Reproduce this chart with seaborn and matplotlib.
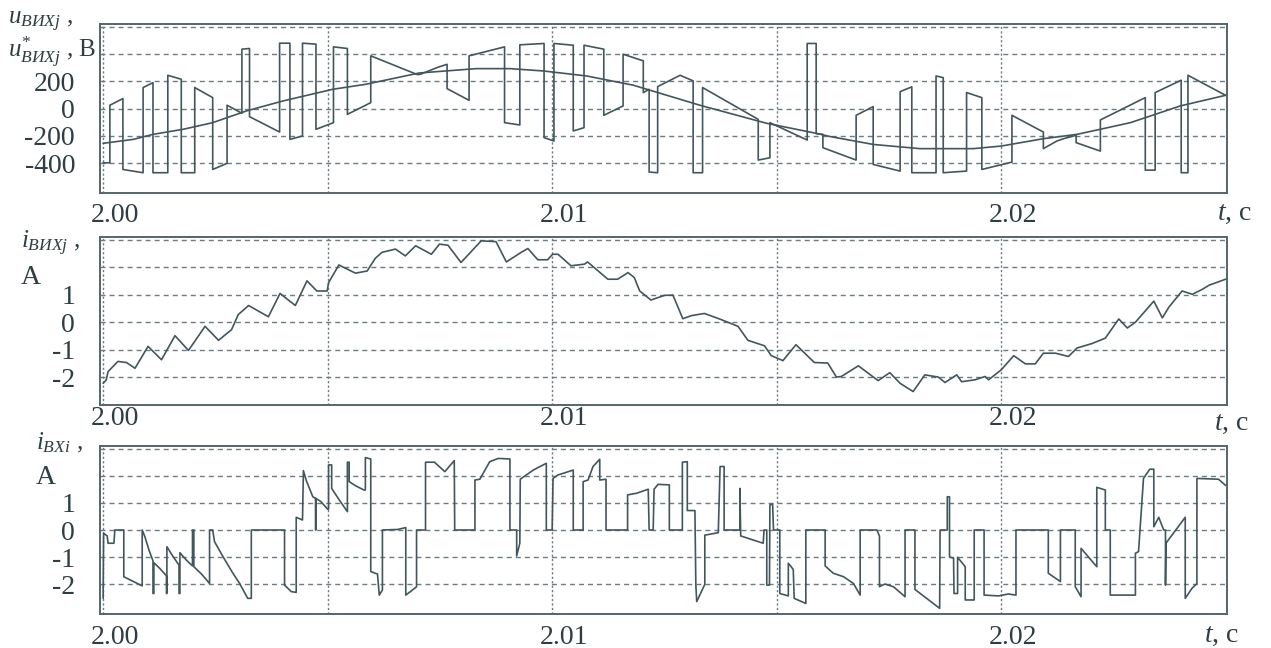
import numpy as np
import pandas as pd
import matplotlib
matplotlib.use("Agg")
import matplotlib.pyplot as plt
import matplotlib.transforms as mtransforms
import seaborn as sns

# ---------------- data (time in ms after t = 2.00 s) ----------------
u_out_ms = [0.0, 0.15, 0.15, 0.44, 0.44, 0.89, 0.89, 1.11, 1.11, 1.44, 1.44, 1.74, 1.74, 2.04, 2.04, 2.44,
            2.44, 2.76, 2.76, 2.9, 3.09, 3.09, 3.26, 3.26, 3.93, 3.93, 4.16, 4.16, 4.44, 4.44, 4.74, 4.74,
            5.13, 5.13, 5.44, 5.44, 5.96, 5.96, 7.0, 7.07, 7.44, 7.66, 7.66, 8.15, 8.15, 8.94, 8.94, 9.28,
            9.28, 9.82, 9.82, 10.04, 10.04, 10.47, 10.47, 10.71, 10.71, 11.15, 11.15, 11.58, 11.58, 12.03,
            12.03, 12.16, 12.16, 12.35, 12.35, 12.85, 13.14, 13.14, 13.35, 13.35, 14.59, 14.59, 14.85, 14.85,
            15.68, 15.68, 15.88, 15.88, 16.03, 16.03, 16.77, 16.77, 17.15, 17.15, 17.75, 17.75, 18.01, 18.01,
            18.55, 18.55, 18.71, 18.71, 19.23, 19.23, 19.57, 19.57, 20.24, 20.24, 20.94, 20.94, 21.24, 21.4,
            21.67, 21.67, 22.21, 22.21, 23.21, 23.21, 23.43, 23.43, 24.01, 24.01, 24.16, 24.16, 25.0]
u_out_v = [-398, -398, 25, 74, -447, -471, 155, 191, -471, -471, 245, 216, -471, -471, 155, 81,
           -447, -402, 25, 0, -34, 437, 442, -59, -172, 481, 481, -226, -201, 481, 474, -152,
           -103, 454, 442, -42, 44, 388, 250, 253, 302, 326, 147, 61, 388, 454, -103, -120,
           469, 479, -213, -238, 479, 466, -164, -140, 466, 437, -49, 20, 400, 351,
           118, 142, -466, -471, 162, 245, 204, -471, -471, 155, -79, -378, -361, -103,
           -231, 479, 479, -184, -189, -287, -378, -49, 15, -410, -459, 125, 160, -471,
           -471, 240, 228, -471, -459, 118, 81, -447, -393, -49, -172, -294, -238, -220,
           -196, -250, -312, -83, 81, -452, -452, 118, 209, -471, -471, 245, 98]

u_ref_ms = [0.0, 0.67, 1.11, 1.78, 2.44, 3.19, 4.0, 5.11, 5.85, 7.04, 8.31, 9.06, 9.8, 10.77, 11.81,
            13.29, 14.78, 15.89, 16.19, 17.15, 18.19, 19.38, 20.0, 20.94, 21.69, 22.88, 23.99, 25.0]
u_ref_v = [-255, -226, -189, -152, -103, -17, 56, 142, 179, 262, 294, 294, 277, 240, 172,
           25, -108, -182, -205, -263, -294, -294, -275, -221, -189, -103, 20, 98]

i_out_ms = [0.0, 0.07, 0.11, 0.33, 0.52, 0.71, 1.0, 1.3, 1.6, 1.9, 2.27, 2.57, 2.86, 3.01, 3.24, 3.68,
            3.94, 4.28, 4.54, 4.76, 4.99, 5.02, 5.25, 5.62, 5.88, 6.06, 6.21, 6.51, 6.73, 6.96, 7.31,
            7.49, 7.68, 7.97, 8.42, 8.75, 8.98, 9.31, 9.46, 9.68, 9.9, 10.01, 10.13, 10.42, 10.72, 10.79,
            11.24, 11.46, 11.69, 11.83, 11.95, 12.2, 12.5, 12.69, 12.91, 13.1, 13.39, 13.76, 14.14, 14.36,
            14.73, 14.88, 15.14, 15.43, 15.84, 16.14, 16.33, 16.44, 16.82, 17.26, 17.52, 17.75, 18.04,
            18.3, 18.6, 18.75, 19.01, 19.12, 19.42, 19.64, 19.72, 20.0, 20.28, 20.54, 20.76, 20.94,
            21.21, 21.5, 21.69, 22.02, 22.32, 22.62, 22.81, 22.99, 23.4, 23.59, 23.74, 24.03, 24.26,
            24.48, 24.63, 25.0]
i_out_a = [-2.23, -2.1, -1.8, -1.43, -1.47, -1.68, -0.88, -1.37, -0.49, -1.03, -0.15, -0.66, -0.27, 0.28,
           0.61, 0.2, 1.05, 0.61, 1.51, 1.14, 1.14, 1.44, 2.09, 1.79, 1.87, 2.33, 2.55, 2.67, 2.42, 2.79,
           2.48, 2.85, 2.81, 2.18, 2.97, 2.94, 2.2, 2.55, 2.69, 2.28, 2.28, 2.48, 2.48, 2.06, 2.12, 2.2,
           1.57, 1.57, 1.81, 1.63, 1.14, 0.81, 0.98, 0.99, 0.13, 0.24, 0.32, 0.1, -0.15, -0.66,
           -0.86, -1.22, -1.4, -0.82, -1.47, -1.49, -2.0, -1.98, -1.59, -2.13, -1.84, -2.23, -2.53,
           -1.92, -2.0, -2.2, -1.92, -2.17, -2.1, -1.98, -2.1, -1.74, -1.22, -1.52, -1.52, -1.13,
           -1.13, -1.25, -0.94, -0.78, -0.58, 0.12, -0.21, 0.0, 0.77, 0.16, 0.56, 1.14, 1.02,
           1.2, 1.35, 1.57]

i_in_ms = [0.0, 0.01, 0.09, 0.11, 0.24, 0.26, 0.46, 0.46, 0.87, 0.87, 0.93, 1.02, 1.11, 1.11, 1.13, 1.13,
           1.26, 1.41, 1.41, 1.42, 1.42, 1.56, 1.69, 1.69, 1.71, 1.71, 1.85, 1.99, 1.99, 2.02, 2.02, 2.19,
           2.37, 2.37, 2.44, 2.48, 2.67, 2.89, 3.04, 3.22, 3.3, 3.3, 4.04, 4.04, 4.19, 4.3, 4.3, 4.44,
           4.46, 4.52, 4.67, 4.73, 4.73, 4.74, 4.74, 4.85, 5.0, 5.02, 5.02, 5.09, 5.09, 5.26, 5.44, 5.44,
           5.48, 5.48, 5.63, 5.81, 5.84, 5.84, 5.96, 5.96, 6.11, 6.15, 6.22, 6.22, 6.56, 6.74, 6.74, 6.89,
           6.98, 6.98, 7.18, 7.18, 7.38, 7.61, 7.82, 7.83, 8.28, 8.28, 8.39, 8.61, 8.8, 9.06, 9.06, 9.21,
           9.21, 9.28, 9.29, 9.58, 9.87, 9.87, 10.0, 10.02, 10.13, 10.25, 10.36, 10.47, 10.47, 10.69,
           10.69, 10.8, 10.91, 11.06, 11.06, 11.2, 11.2, 11.68, 11.68, 11.88, 12.14, 12.16, 12.25, 12.27,
           12.36, 12.61, 12.61, 12.9, 12.9, 13.01, 13.01, 13.18, 13.2, 13.22, 13.4, 13.4, 13.7, 13.74,
           13.83, 13.83, 14.18, 14.18, 14.2, 14.7, 14.72, 14.78, 14.78, 14.84, 14.85, 14.91, 14.93, 15.07,
           15.07, 15.26, 15.26, 15.37, 15.39, 15.65, 15.65, 16.08, 16.08, 16.26, 16.49, 16.71, 16.86,
           16.86, 17.23, 17.29, 17.29, 17.41, 17.6, 17.86, 17.86, 18.08, 18.08, 18.34, 18.63, 18.64,
           18.8, 18.8, 18.85, 18.85, 18.94, 18.95, 19.03, 19.03, 19.2, 19.2, 19.4, 19.4, 19.62, 19.62,
           19.94, 20.16, 20.33, 20.33, 21.05, 21.05, 21.32, 21.32, 21.65, 21.65, 21.78, 21.78, 22.13,
           22.13, 22.32, 22.32, 22.43, 22.43, 22.99, 22.99, 23.06, 23.17, 23.31, 23.4, 23.4, 23.51,
           23.62, 23.66, 23.66, 23.67, 24.1, 24.1, 24.25, 24.36, 24.36, 24.84, 25.0]
i_in_a = [-2.53, -0.12, -0.22, -0.49, -0.49, 0, 0, -1.73, -2.07, 0, -0.25, -0.74, -1.14, -2.35, -2.35, -1.21,
          -1.42, -1.7, -2.35, -2.35, -0.62, -0.99, -1.3, -2.35, -2.35, -0.84, -1.11, -1.33, 0, 0, -1.36, -1.63,
          -1.98, 0, 0, -0.43, -0.99, -1.6, -1.98, -2.53, -2.53, 0, 0, -2.04, -2.28, -2.31, 0.47, 0.37,
          2.2, 1.85, 1.23, 1.17, 0, 0, 1.17, 1.05, 0.77, 0.77, 2.41, 2.41, 1.54, 1.11, 0.68, 2.51,
          2.51, 1.79, 1.63, 1.48, 1.48, 2.68, 2.63, -1.54, -1.63, -2.41, -2.22, 0, 0.02, 0.09, -2.41, -2.22,
          -2.1, 0, 0, 2.51, 2.51, 2.16, 2.57, 0, 0, 1.85, 1.88, 2.53, 2.65, 2.63, 0, 0,
          -0.96, -0.49, 1.88, 2.22, 2.47, 0, 0, 1.91, 2.04, 2.1, 2.16, 2.22, 0, 0,
          1.79, 1.85, 2.35, 2.62, 1.85, 1.88, 0, 0, 1.3, 1.36, 1.51, 0, 0, 1.51,
          1.69, 1.67, 0, 0, 2.51, 2.53, 0.72, 0.72, -2.04, -2.65, -2.01, -0.19, -0.1, 2.35,
          2.35, 0, 0, 1.54, -0.22, -0.49, 0, 0, -2.04, -2.04, 0.93, 0.96, 0, 0,
          -2.35, -2.44, -1.23, -1.46, -2.53, -2.72, 0, 0, -1.33, -1.6, -1.73, -1.98, -2.41,
          0, 0, -0.22, -2.1, -2.0, -2.1, -2.47, 0, 0, -2.2, -2.53, -2.9, 0,
          0, 1.23, 1.23, -0.99, -1.05, -2.35, -2.35, -1.01, -1.36, -2.59, -2.59, 0, 0, -2.41,
          -2.44, -2.37, -2.41, 0, 0, -1.6, -1.91, 0, 0, -2.1, -2.47, -0.68, -1.36,
          1.58, 1.48, 0, 0, -2.41, -2.41, -0.86, -0.8, 1.91, 2.25, 2.25, 0.12, 0.47,
          0, 0, -2.04, -0.49, 0.47, -2.53, -2.16, -1.98, 1.91, 1.88, 1.65]

x_tick_values = [2.00, 2.01, 2.02]
x_tick_labels = ["2.00", "2.01", "2.02"]
x_grid_values = [2.000, 2.005, 2.010, 2.015, 2.020]
u_ticks = [-400, -200, 0, 200, 400, 600]
u_tick_labels = ["-400", "-200", "0", "200", "", ""]
i_ticks = [-2, -1, 0, 1, 2, 3]
i_tick_labels = ["-2", "-1", "0", "1", "", ""]

# ---------------- style ----------------
sns.set_theme(style="white")
plt.rcParams["font.family"] = ["Liberation Serif", "DejaVu Serif"]
plt.rcParams["mathtext.fontset"] = "custom"
plt.rcParams["mathtext.it"] = "Liberation Serif:italic"
plt.rcParams["mathtext.rm"] = "Liberation Serif"
plt.rcParams["mathtext.bf"] = "Liberation Serif:bold"

LINE = "#44565d"
GRID = "#6e7b80"
SPINE = "#55656b"
FS = 20
LFS = 18
TXT = "#2f3e44"

W, H = 1271, 648
fig = plt.figure(figsize=(W / 100, H / 100), dpi=100)
fig.patch.set_facecolor("white")


def px_axes(left, top, right, bottom):
    return fig.add_axes([left / W, 1 - bottom / H, (right - left) / W, (bottom - top) / H])


def to_df(ms, vals):
    return pd.DataFrame({"t": 2.0 + np.asarray(ms) / 1000.0, "v": vals})


def style_axes(ax, yticks, ylabels, ylim, xpad):
    ax.set_xlim(1.99993, 2.02503)
    ax.set_ylim(*ylim)
    for y in yticks:
        ax.axhline(y, color=GRID, lw=1.0, ls=(0, (3.6, 2.9)), zorder=1)
    for x in x_grid_values:
        ax.axvline(x, color=GRID, lw=1.0, ls=(0, (1.6, 1.6)), zorder=1)
    ax.set_yticks(yticks)
    ax.set_yticklabels(ylabels)
    ax.set_xticks(x_tick_values)
    ax.set_xticklabels(x_tick_labels)
    ax.tick_params(axis="y", direction="in", length=14, width=1.3, color=SPINE,
                   pad=18, labelsize=FS, labelcolor=TXT)
    ax.tick_params(axis="x", direction="in", length=5, width=1.0, color=SPINE,
                   pad=xpad, labelsize=FS, labelcolor=TXT)
    off = mtransforms.ScaledTranslation(12 / 100, 0, fig.dpi_scale_trans)
    for lab in ax.get_xticklabels():
        lab.set_transform(lab.get_transform() + off)
    for s in ax.spines.values():
        s.set_color(SPINE)
        s.set_linewidth(1.4)
        s.set_visible(True)
    ax.set_xlabel("")
    ax.set_ylabel("")
    ax.set_facecolor("white")


# panel 1
ax1 = px_axes(100, 24, 1227, 193)
sns.lineplot(data=to_df(u_out_ms, u_out_v), x="t", y="v", sort=False, estimator=None,
             color=LINE, lw=1.2, ax=ax1, zorder=3)
sns.lineplot(data=to_df(u_ref_ms, u_ref_v), x="t", y="v", sort=False, estimator=None,
             color=LINE, lw=1.2, ax=ax1, zorder=3)
style_axes(ax1, u_ticks, u_tick_labels, (-620, 622), 7)

# panel 2
ax2 = px_axes(100, 237, 1227, 405)
sns.lineplot(data=to_df(i_out_ms, i_out_a), x="t", y="v", sort=False, estimator=None,
             color=LINE, lw=1.2, ax=ax2, zorder=3)
style_axes(ax2, i_ticks, i_tick_labels, (-3.02, 3.11), 1)

# panel 3
ax3 = px_axes(100, 446, 1227, 614)
sns.lineplot(data=to_df(i_in_ms, i_in_a), x="t", y="v", sort=False, estimator=None,
             color=LINE, lw=1.2, ax=ax3, zorder=3)
style_axes(ax3, i_ticks, i_tick_labels, (-3.11, 3.11), 8)


def ftext(x, y, s, size=FS, **kw):
    fig.text(x / W, 1 - y / H, s, fontsize=size, color=TXT, va="center", ha="left", **kw)


ftext(8, 22, r"$u_{ВИХj}$ ,", size=LFS)
ftext(8, 52, r"$u^{*}_{ВИХj}$ , В", size=LFS)
ftext(21, 243, r"$i_{ВИХj}$ ,", size=LFS)
ftext(21, 278, "А")
ftext(36, 443, r"$i_{ВХi}$ ,", size=LFS)
ftext(36, 477, "А")
ftext(1217, 214, r"$t$, с")
ftext(1214, 423, r"$t$, с")
ftext(1204, 635, r"$t$, с")

fig.savefig("out.png", dpi=100, facecolor="white")
